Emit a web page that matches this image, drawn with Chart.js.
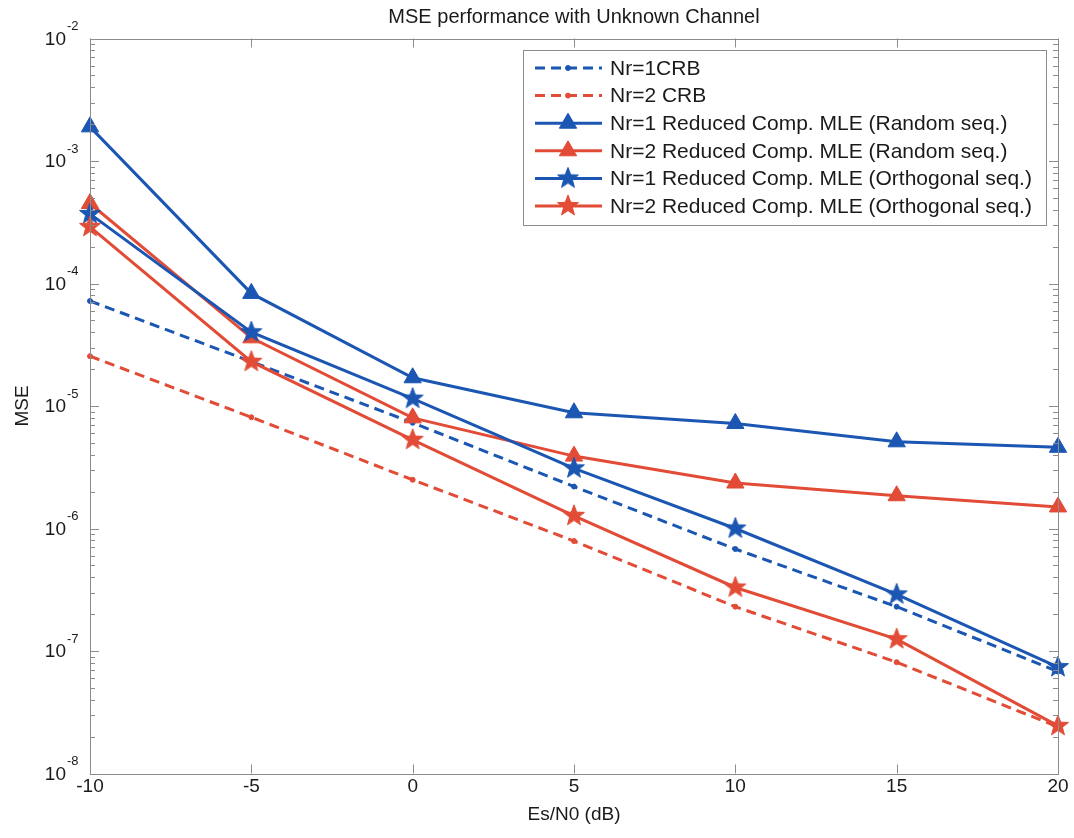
<!DOCTYPE html>
<html>
<head>
<meta charset="utf-8">
<style>
  html, body { margin: 0; padding: 0; background: #ffffff; }
  #wrap { width: 1074px; height: 838px; position: relative; }
</style>
<script src="https://cdn.jsdelivr.net/npm/chart.js@4.4.0/dist/chart.umd.min.js"></script>
</head>
<body>
<div id="wrap"><canvas id="c" width="1074" height="838"></canvas></div>
<script>
// ---- data ----
const snrDb = [-10, -5, 0, 5, 10, 15, 20];
const crbNr1 = [7.2e-5, 2.3e-5, 7.3e-6, 2.2e-6, 6.8e-7, 2.3e-7, 6.8e-8];
const crbNr2 = [2.55e-5, 8.1e-6, 2.5e-6, 7.9e-7, 2.3e-7, 8.1e-8, 2.4e-8];
const mleRandNr1 = [1.9e-3, 8.3e-5, 1.7e-5, 8.8e-6, 7.2e-6, 5.1e-6, 4.6e-6];
const mleRandNr2 = [4.5e-4, 3.6e-5, 8.0e-6, 3.9e-6, 2.35e-6, 1.85e-6, 1.5e-6];
const mleOrthNr1 = [3.7e-4, 4.0e-5, 1.15e-5, 3.1e-6, 1.0e-6, 2.9e-7, 7.4e-8];
const mleOrthNr2 = [2.9e-4, 2.3e-5, 5.3e-6, 1.27e-6, 3.3e-7, 1.25e-7, 2.45e-8];
const seriesLabels = [
  'Nr=1CRB',
  'Nr=2 CRB',
  'Nr=1 Reduced Comp. MLE (Random seq.)',
  'Nr=2 Reduced Comp. MLE (Random seq.)',
  'Nr=1 Reduced Comp. MLE (Orthogonal seq.)',
  'Nr=2 Reduced Comp. MLE (Orthogonal seq.)'
];
const xTickValues = [-10, -5, 0, 5, 10, 15, 20];
const yTickExponents = [-8, -7, -6, -5, -4, -3, -2];
const chartTitle = 'MSE performance with Unknown Channel';
const xTitle = 'Es/N0 (dB)';
const yTitle = 'MSE';

// ---- styles ----
const BLUE = '#1b56b2';
const RED = '#e24b36';
const AXIS = '#8c8c8c';
const FONT = '"Liberation Sans", Arial, Helvetica, sans-serif';

function makeStar(color, r) {
  const s = Math.ceil(r * 2 + 4);
  const c = document.createElement('canvas');
  c.width = s; c.height = s;
  const g = c.getContext('2d');
  g.fillStyle = color;
  g.strokeStyle = color;
  g.lineWidth = 1;
  g.beginPath();
  for (let i = 0; i < 10; i++) {
    const rr = (i % 2) ? r * 0.42 : r;
    const a = -Math.PI / 2 + i * Math.PI / 5;
    const px = s / 2 + rr * Math.cos(a), py = s / 2 + rr * Math.sin(a);
    if (i === 0) g.moveTo(px, py); else g.lineTo(px, py);
  }
  g.closePath();
  g.fill();
  g.stroke();
  return c;
}
const starBlue = makeStar(BLUE, 11);
const starRed = makeStar(RED, 11);

function pts(arr) { return snrDb.map((x, i) => ({ x: x, y: arr[i] })); }

const seriesData = [crbNr1, crbNr2, mleRandNr1, mleRandNr2, mleOrthNr1, mleOrthNr2];
const seriesColor = [BLUE, RED, BLUE, RED, BLUE, RED];
const seriesDash = [[10, 6], [10, 6], [], [], [], []];
const seriesPoint = ['circle', 'circle', 'triangle', 'triangle', starBlue, starRed];
const seriesRadius = [2.5, 2.5, 10, 10, 11, 11];

const datasets = seriesData.map((arr, i) => ({
  label: seriesLabels[i],
  data: pts(arr),
  borderColor: seriesColor[i],
  backgroundColor: seriesColor[i],
  pointBackgroundColor: seriesColor[i],
  pointBorderColor: seriesColor[i],
  borderWidth: 3,
  borderDash: seriesDash[i],
  pointStyle: seriesPoint[i],
  pointRadius: seriesRadius[i],
  pointBorderWidth: 1,
  tension: 0,
  fill: false,
  clip: false,
  order: seriesData.length - i
}));

const matlabPlugin = {
  id: 'matlabAxes',
  afterDraw(chart) {
    const ctx = chart.ctx;
    const area = chart.chartArea;
    const xs = chart.scales.x, ys = chart.scales.y;
    ctx.save();
    // box
    ctx.strokeStyle = AXIS;
    ctx.lineWidth = 1;
    ctx.strokeRect(Math.round(area.left) + 0.5, Math.round(area.top) + 0.5,
                   Math.round(area.right - area.left), Math.round(area.bottom - area.top));
    // x major ticks (top & bottom)
    ctx.beginPath();
    xTickValues.forEach(v => {
      const px = Math.round(xs.getPixelForValue(v)) + 0.5;
      ctx.moveTo(px, area.bottom); ctx.lineTo(px, area.bottom - 9);
      ctx.moveTo(px, area.top); ctx.lineTo(px, area.top + 9);
    });
    // y major and minor ticks (left & right)
    yTickExponents.forEach(e => {
      const py = Math.round(ys.getPixelForValue(Math.pow(10, e))) + 0.5;
      ctx.moveTo(area.left, py); ctx.lineTo(area.left + 9, py);
      ctx.moveTo(area.right, py); ctx.lineTo(area.right - 9, py);
      if (e < yTickExponents[yTickExponents.length - 1]) {
        for (let k = 2; k <= 9; k++) {
          const my = Math.round(ys.getPixelForValue(k * Math.pow(10, e))) + 0.5;
          ctx.moveTo(area.left, my); ctx.lineTo(area.left + 5, my);
          ctx.moveTo(area.right, my); ctx.lineTo(area.right - 5, my);
        }
      }
    });
    ctx.stroke();

    // y tick labels: 10 with superscript exponent
    ctx.fillStyle = '#1a1a1a';
    yTickExponents.forEach(e => {
      const py = ys.getPixelForValue(Math.pow(10, e));
      ctx.font = '19px ' + FONT;
      ctx.textAlign = 'right';
      ctx.textBaseline = 'middle';
      ctx.fillText('10', 66, py + 1);
      ctx.font = '13px ' + FONT;
      ctx.textAlign = 'left';
      ctx.fillText(String(e), 67, py - 12);
    });

    // title
    ctx.font = '20px ' + FONT;
    ctx.textAlign = 'center';
    ctx.textBaseline = 'middle';
    ctx.fillText(chartTitle, (area.left + area.right) / 2, 17);

    // legend
    const lx = 523, ly = 50, rowH = 27.6, firstRow = 68;
    ctx.font = '21px ' + FONT;
    let maxW = 0;
    chart.data.datasets.forEach(ds => { maxW = Math.max(maxW, ctx.measureText(ds.label).width); });
    const textX = 610;
    const boxR = Math.max(1046, textX + maxW + 6);
    const boxB = 225;
    ctx.fillStyle = '#ffffff';
    ctx.fillRect(lx, ly, boxR - lx, boxB - ly);
    ctx.strokeStyle = AXIS;
    ctx.lineWidth = 1;
    ctx.strokeRect(lx + 0.5, ly + 0.5, boxR - lx, boxB - ly);
    chart.data.datasets.forEach((ds, i) => {
      const y = firstRow + i * rowH;
      ctx.save();
      ctx.strokeStyle = ds.borderColor;
      ctx.lineWidth = ds.borderWidth;
      ctx.setLineDash(ds.borderDash || []);
      ctx.beginPath();
      ctx.moveTo(535, y); ctx.lineTo(602, y);
      ctx.stroke();
      ctx.setLineDash([]);
      ctx.fillStyle = ds.pointBackgroundColor;
      ctx.strokeStyle = ds.pointBorderColor;
      ctx.lineWidth = 1;
      Chart.helpers.drawPoint(ctx, { pointStyle: ds.pointStyle, radius: ds.pointRadius, rotation: 0, borderWidth: 1 }, 568, y);
      ctx.restore();
      ctx.fillStyle = '#1a1a1a';
      ctx.font = '21px ' + FONT;
      ctx.textAlign = 'left';
      ctx.textBaseline = 'middle';
      ctx.fillText(ds.label, textX, y + 1);
    });
    ctx.restore();
  }
};

new Chart(document.getElementById('c'), {
  type: 'line',
  data: { datasets: datasets },
  options: {
    responsive: false,
    animation: false,
    devicePixelRatio: 1,
    layout: { padding: { left: 0, right: 16, top: 38.5, bottom: 0 } },
    plugins: {
      legend: { display: false },
      title: { display: false },
      tooltip: { enabled: false }
    },
    scales: {
      x: {
        type: 'linear',
        min: -10, max: 20,
        grid: { display: false, drawTicks: false },
        border: { display: false },
        afterBuildTicks: (s) => { s.ticks = xTickValues.map(v => ({ value: v })); },
        afterFit: (s) => { s.height = 64.5; },
        ticks: {
          color: '#1a1a1a',
          font: { family: FONT, size: 19 },
          padding: 2,
          maxRotation: 0,
          autoSkip: false,
          callback: (v) => String(v)
        },
        title: {
          display: true,
          text: xTitle,
          color: '#1a1a1a',
          font: { family: FONT, size: 19 },
          padding: { top: 0, bottom: 12 }
        }
      },
      y: {
        type: 'logarithmic',
        min: 1e-8, max: 1e-2,
        grid: { display: false, drawTicks: false },
        border: { display: false },
        afterBuildTicks: (s) => { s.ticks = yTickExponents.map(e => ({ value: Math.pow(10, e) })); },
        afterFit: (s) => { s.width = 90; },
        ticks: { display: false },
        title: {
          display: true,
          text: yTitle,
          color: '#1a1a1a',
          font: { family: FONT, size: 19 },
          padding: { top: 11, bottom: 0 }
        }
      }
    }
  },
  plugins: [matlabPlugin]
});
</script>
</body>
</html>
